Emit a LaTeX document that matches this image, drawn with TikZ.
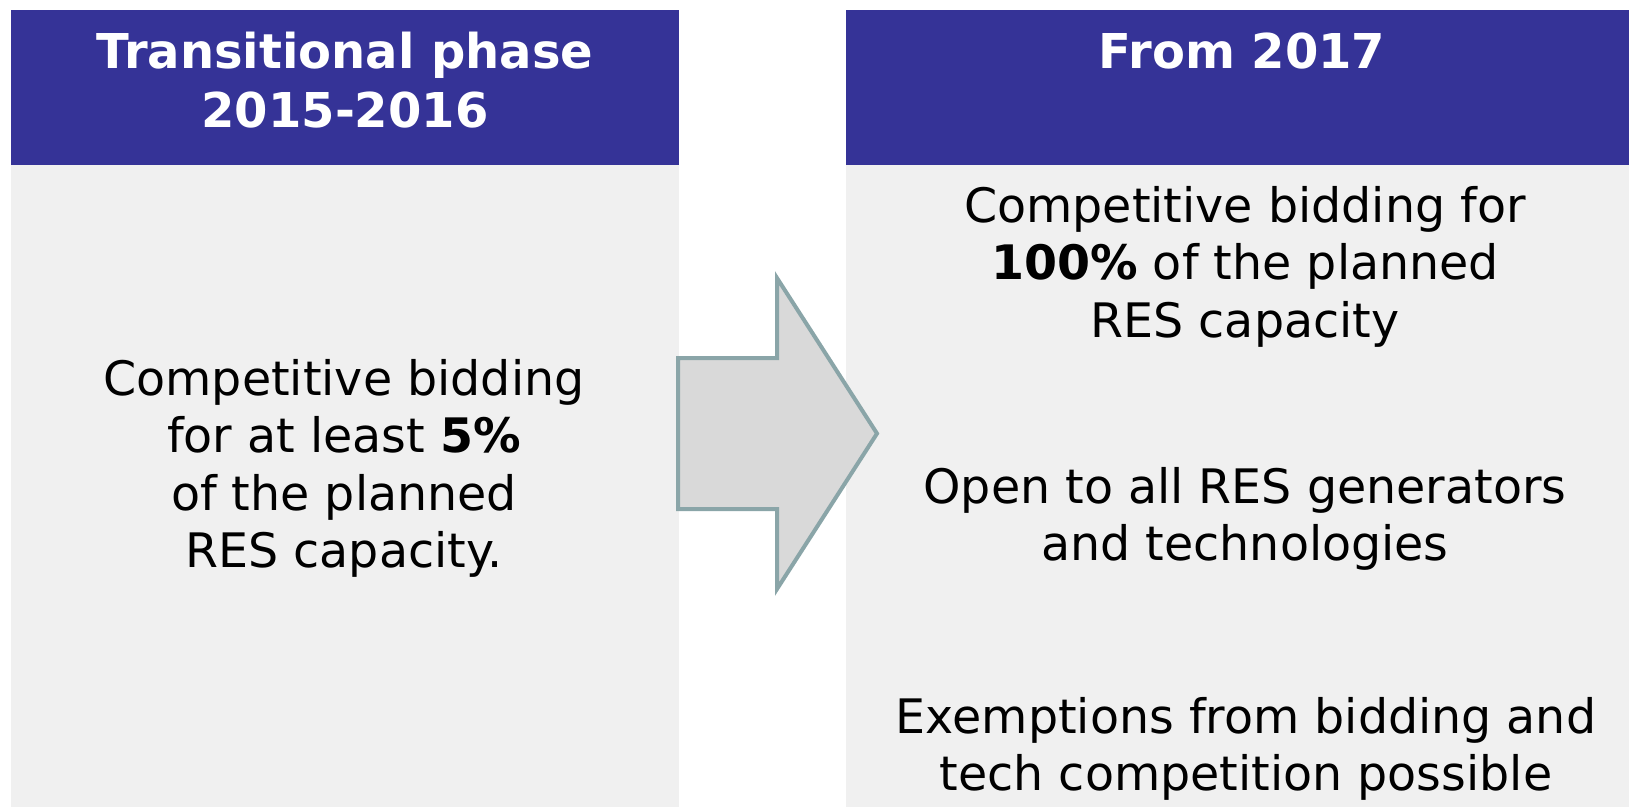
\documentclass[tikz,border=0pt]{standalone}
\usepackage{fontspec}
\setmainfont{DejaVu Sans}
\definecolor{hdr}{HTML}{353397}
\definecolor{panel}{HTML}{F0F0F0}
\definecolor{arrfill}{HTML}{D9D9D9}
\definecolor{arrline}{HTML}{8AA5A8}
\begin{document}
\begin{tikzpicture}[x=1pt,y=-1pt,
  hdrbox/.style={fill=hdr},
  bodybox/.style={fill=panel},
  hdrtext/.style={text=white, font=\fontsize{48}{59}\selectfont\bfseries, anchor=base, inner sep=0pt},
  bodytext/.style={text=black, font=\fontsize{47.5}{57.5}\selectfont, anchor=base, inner sep=0pt},
  bigarrow/.style={fill=arrfill, draw=arrline, line width=4pt, line join=miter}
]
\useasboundingbox (0,0) rectangle (1629,807);
\fill[white] (0,0) rectangle (1629,807);
% panels
\path[bodybox] (11,165) rectangle (679,807);
\path[hdrbox] (11,10) rectangle (679,165);
\path[bodybox] (846,165) rectangle (1629,807);
\path[hdrbox] (846,10) rectangle (1629,165);
% headers
\node[hdrtext] (lhead) at (345,68) {\begin{tabular}[t]{@{}c@{}}Transitional phase\\2015-2016\end{tabular}};
\node[hdrtext] (rhead) at (1242,68) {\begin{tabular}[t]{@{}c@{}}From 2017\end{tabular}};
% left body
\node[bodytext] (ltext) at (344,395) {\begin{tabular}[t]{@{}c@{}}Competitive bidding\\for at least \textbf{5\%}\\of the planned\\RES capacity.\end{tabular}};
% right body
\node[bodytext] (r1) at (1245,222) {\begin{tabular}[t]{@{}c@{}}Competitive bidding for\\\textbf{100\%} of the planned\\RES capacity\end{tabular}};
\node[bodytext] (r2) at (1245,503) {\begin{tabular}[t]{@{}c@{}}Open to all RES generators\\and technologies\end{tabular}};
\node[bodytext] (r3) at (1246,733) {\begin{tabular}[t]{@{}c@{}}Exemptions from bidding and\\tech competition possible\end{tabular}};
% arrow
\draw[bigarrow] (678,358) -- (777,358) -- (777,278) -- (877,433.5) -- (777,589) -- (777,509) -- (678,509) -- cycle;
\end{tikzpicture}
\end{document}
